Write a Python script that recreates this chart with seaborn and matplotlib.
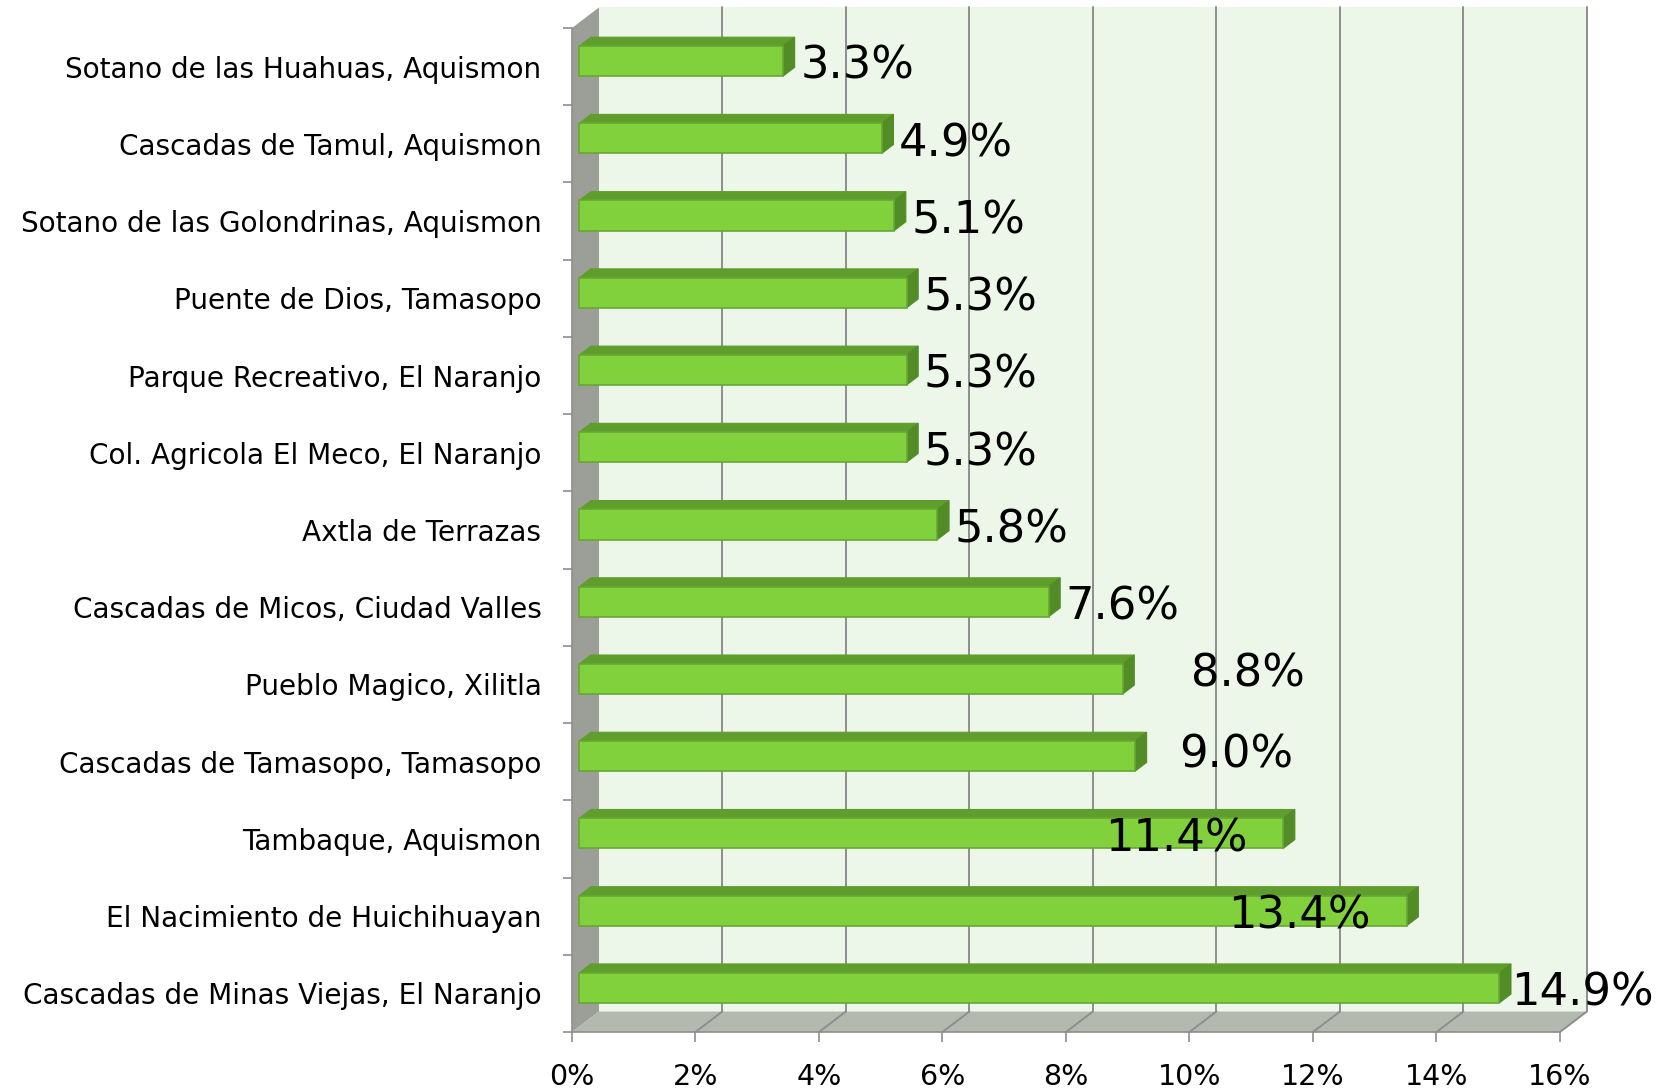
import matplotlib
matplotlib.use('Agg')
import matplotlib.pyplot as plt
import seaborn as sns
import pandas as pd
import numpy as np
from matplotlib.patches import Polygon
from matplotlib.transforms import Affine2D

# --- DATA ---
places = [
    'Sotano de las Huahuas, Aquismon',
    'Cascadas de Tamul, Aquismon',
    'Sotano de las Golondrinas, Aquismon',
    'Puente de Dios, Tamasopo',
    'Parque Recreativo, El Naranjo',
    'Col. Agricola El Meco, El Naranjo',
    'Axtla de Terrazas',
    'Cascadas de Micos, Ciudad Valles',
    'Pueblo Magico, Xilitla',
    'Cascadas de Tamasopo, Tamasopo',
    'Tambaque, Aquismon',
    'El Nacimiento de Huichihuayan',
    'Cascadas de Minas Viejas, El Naranjo',
]
shares = [3.3, 4.9, 5.1, 5.3, 5.3, 5.3, 5.8, 7.6, 8.8, 9.0, 11.4, 13.4, 14.9]
x_ticks = [0, 2, 4, 6, 8, 10, 12, 14, 16]

# hand-moved data labels in the original (in % / category units)
label_nudge_x = [0, 0, 0, 0, 0, 0, 0, 0, 0.83, 0.43, -3.16, -3.17, -0.09]
label_nudge_y = [0, 0, 0, 0, 0, 0, 0, 0, -0.13, -0.08, 0, 0, 0]

df = pd.DataFrame({'place': places, 'share': shares})

# --- STYLE ---
front_col = '#80D13B'
top_col = '#5F9E2C'
side_col = '#528C26'
edge_col = '#66A833'
wall_col = '#ECF7E9'
lwall_col = '#9C9E98'
floor_col = '#B4B9B0'
grid_col = '#8E8E8E'

sns.set_theme(style='white')
plt.rcParams['font.family'] = ['DejaVu Sans']

fig = plt.figure(figsize=(16.65, 10.88), dpi=100)
ax = fig.add_axes([572 / 1665, 56 / 1088, 988 / 1665, 1004 / 1088])

n = len(places)
xmax = 16
ytop, ybot = -0.5, n - 0.5
# depth vector of the fake 3D box (data units)
dx, dy = 0.437, -0.266
d0, d1 = 0.27, 0.70   # bar front / back depth

# back wall, floor, left wall
ax.add_patch(Polygon([(dx, ybot + dy), (xmax + dx, ybot + dy), (xmax + dx, ytop + dy), (dx, ytop + dy)],
                     closed=True, facecolor=wall_col, edgecolor='none', zorder=0, clip_on=False))
ax.add_patch(Polygon([(0, ybot), (xmax, ybot), (xmax + dx, ybot + dy), (dx, ybot + dy)],
                     closed=True, facecolor=floor_col, edgecolor='none', zorder=1, clip_on=False))
for xt in x_ticks[1:]:
    ax.plot([xt + dx, xt + dx], [ybot + dy, ytop + dy], color=grid_col, lw=1.4, zorder=1.2, clip_on=False)
    ax.plot([xt, xt + dx], [ybot, ybot + dy], color=grid_col, lw=1.4, zorder=1.2, clip_on=False)
ax.add_patch(Polygon([(0, ytop), (dx, ytop + dy), (dx, ybot + dy), (0, ybot)],
                     closed=True, facecolor=lwall_col, edgecolor='none', zorder=1.5, clip_on=False))

# front faces of the bars
sns.barplot(data=df, x='share', y='place', orient='h', width=0.39, color=front_col,
            saturation=1, edgecolor=edge_col, linewidth=1.2, ax=ax, zorder=3)

shift = Affine2D().translate(d0 * dx, d0 * dy)
for p in ax.patches:
    if not hasattr(p, 'get_width') or p.get_zorder() != 3:
        continue
    x0, y0, w, h = p.get_x(), p.get_y(), p.get_width(), p.get_height()
    p.set_transform(shift + ax.transData)
    top = [(x0 + d0 * dx, y0 + d0 * dy), (x0 + w + d0 * dx, y0 + d0 * dy),
           (x0 + w + d1 * dx, y0 + d1 * dy), (x0 + d1 * dx, y0 + d1 * dy)]
    side = [(x0 + w + d0 * dx, y0 + d0 * dy), (x0 + w + d0 * dx, y0 + h + d0 * dy),
            (x0 + w + d1 * dx, y0 + h + d1 * dy), (x0 + w + d1 * dx, y0 + d1 * dy)]
    ax.add_patch(Polygon(top, closed=True, facecolor=top_col, edgecolor=top_col, lw=0.8, zorder=2.9))
    ax.add_patch(Polygon(side, closed=True, facecolor=side_col, edgecolor=side_col, lw=0.8, zorder=2.9))

# data labels
for i, v in enumerate(shares):
    ax.text(v + d1 * dx + 0.09 + label_nudge_x[i], i + d0 * dy + 0.07 + label_nudge_y[i], f'{v:.1f}%',
            ha='left', va='center', fontsize=32.3, color='black', zorder=5, clip_on=False)

ax.set_xlim(0, xmax)
ax.set_ylim(ybot, ytop)
ax.set_xticks(x_ticks)
ax.set_xticklabels([f'{t}%' for t in x_ticks])
ax.set_xlabel('')
ax.set_ylabel('')
ax.set_yticks(np.arange(-0.5, n, 1.0), minor=True)
ax.tick_params(axis='y', which='major', length=0, pad=22, labelsize=20.1, labelcolor='black')
ax.tick_params(axis='y', which='minor', left=True, length=6.5, width=1.2, color=grid_col, direction='out')
ax.tick_params(axis='x', which='major', bottom=True, length=7, width=1.2, color=grid_col,
               direction='out', pad=15, labelsize=20.5, labelcolor='black')
ax.patch.set_visible(False)
for s in ['top', 'right']:
    ax.spines[s].set_visible(False)
for s in ['left', 'bottom']:
    ax.spines[s].set_color(grid_col)
    ax.spines[s].set_linewidth(1.2)
    ax.spines[s].set_zorder(2)

fig.savefig('out.png', dpi=100)
